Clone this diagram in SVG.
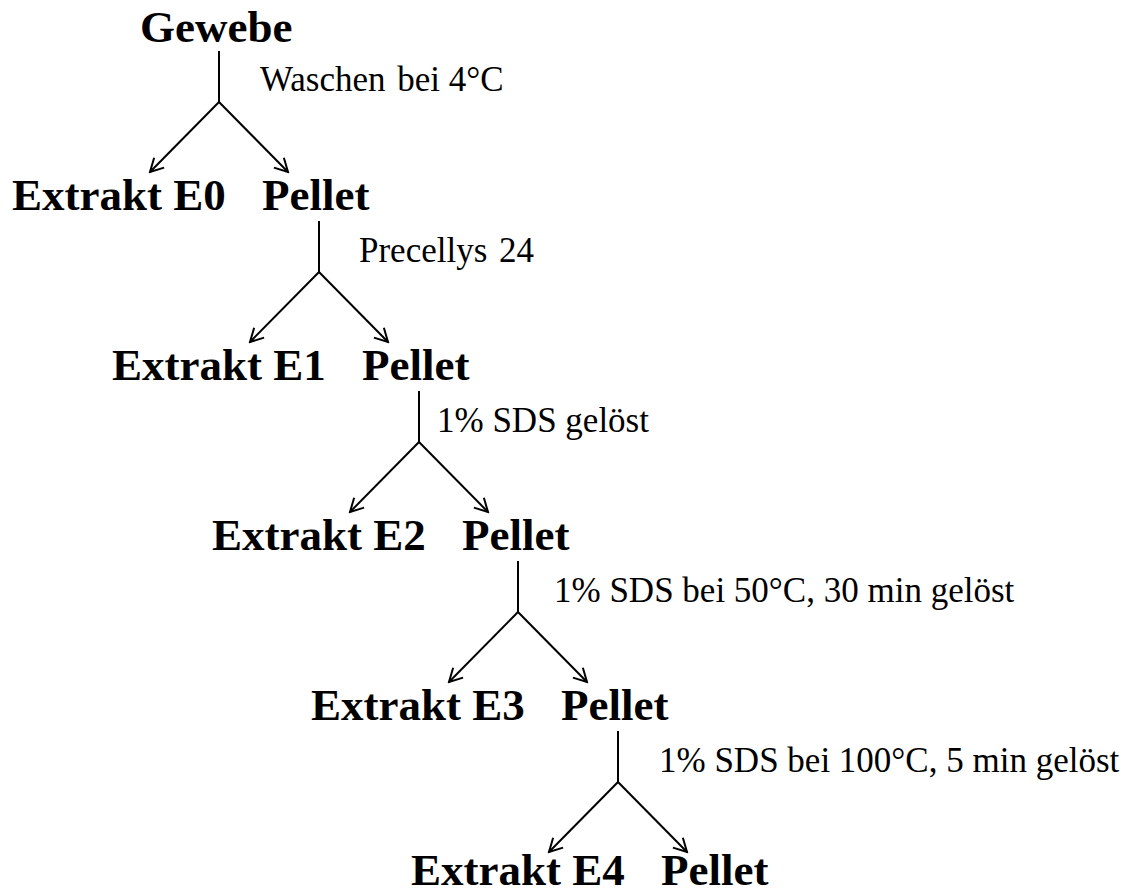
<svg xmlns="http://www.w3.org/2000/svg" width="1124" height="893" viewBox="0 0 1124 893">
<style>
.n{font-family:"Liberation Serif","Times New Roman",serif;font-weight:bold;font-size:45px;fill:#000}
.l{font-family:"Liberation Serif","Times New Roman",serif;font-size:35px;fill:#000}
.c line{stroke:#000;stroke-width:2;fill:none}
.c .a{marker-end:url(#ah)}
</style>
<defs>
<marker id="ah" markerUnits="userSpaceOnUse" markerWidth="16" markerHeight="16" refX="14" refY="8" orient="auto" viewBox="0 0 16 16">
<path d="M1,1 L14,8 L1,15" fill="none" stroke="#000" stroke-width="2"/>
</marker>
</defs>
<rect width="1124" height="893" fill="#fff"/>
<g class="c" id="connectors">
<line x1="219" y1="51" x2="219" y2="102"/>
<line class="a" x1="219" y1="102" x2="150" y2="172"/>
<line class="a" x1="219" y1="102" x2="288" y2="172"/>
<line x1="319" y1="221" x2="319" y2="272"/>
<line class="a" x1="319" y1="272" x2="250" y2="342"/>
<line class="a" x1="319" y1="272" x2="388" y2="342"/>
<line x1="419" y1="391" x2="419" y2="442"/>
<line class="a" x1="419" y1="442" x2="350" y2="512"/>
<line class="a" x1="419" y1="442" x2="488" y2="512"/>
<line x1="518" y1="561" x2="518" y2="612"/>
<line class="a" x1="518" y1="612" x2="449" y2="682"/>
<line class="a" x1="518" y1="612" x2="587" y2="682"/>
<line x1="618" y1="731" x2="618" y2="782"/>
<line class="a" x1="618" y1="782" x2="549" y2="852"/>
<line class="a" x1="618" y1="782" x2="687" y2="852"/>
</g>
<g id="labels">
<text class="l" x="260" y="91">Waschen <tspan dx="3">bei 4°C</tspan></text>
<text class="l" x="359" y="262">Precellys <tspan dx="3">24</tspan></text>
<text class="l" x="437" y="432">1% SDS gelöst</text>
<text class="l" x="554" y="602">1% SDS bei 50°C, 30 min gelöst</text>
<text class="l" x="659" y="772">1% SDS bei 100°C, 5 min gelöst</text>
</g>
<g id="gewebe"><text class="n" x="140" y="42">Gewebe</text></g>
<g id="e0"><text class="n" x="12" y="210">Extrakt E0</text></g>
<g id="p0"><text class="n" x="262" y="210">Pellet</text></g>
<g id="e1"><text class="n" x="112" y="380">Extrakt E1</text></g>
<g id="p1"><text class="n" x="362" y="380">Pellet</text></g>
<g id="e2"><text class="n" x="212" y="550">Extrakt E2</text></g>
<g id="p2"><text class="n" x="462" y="550">Pellet</text></g>
<g id="e3"><text class="n" x="311" y="720">Extrakt E3</text></g>
<g id="p3"><text class="n" x="561" y="720">Pellet</text></g>
<g id="e4"><text class="n" x="411" y="885">Extrakt E4</text></g>
<g id="p4"><text class="n" x="661" y="885">Pellet</text></g>
</svg>
